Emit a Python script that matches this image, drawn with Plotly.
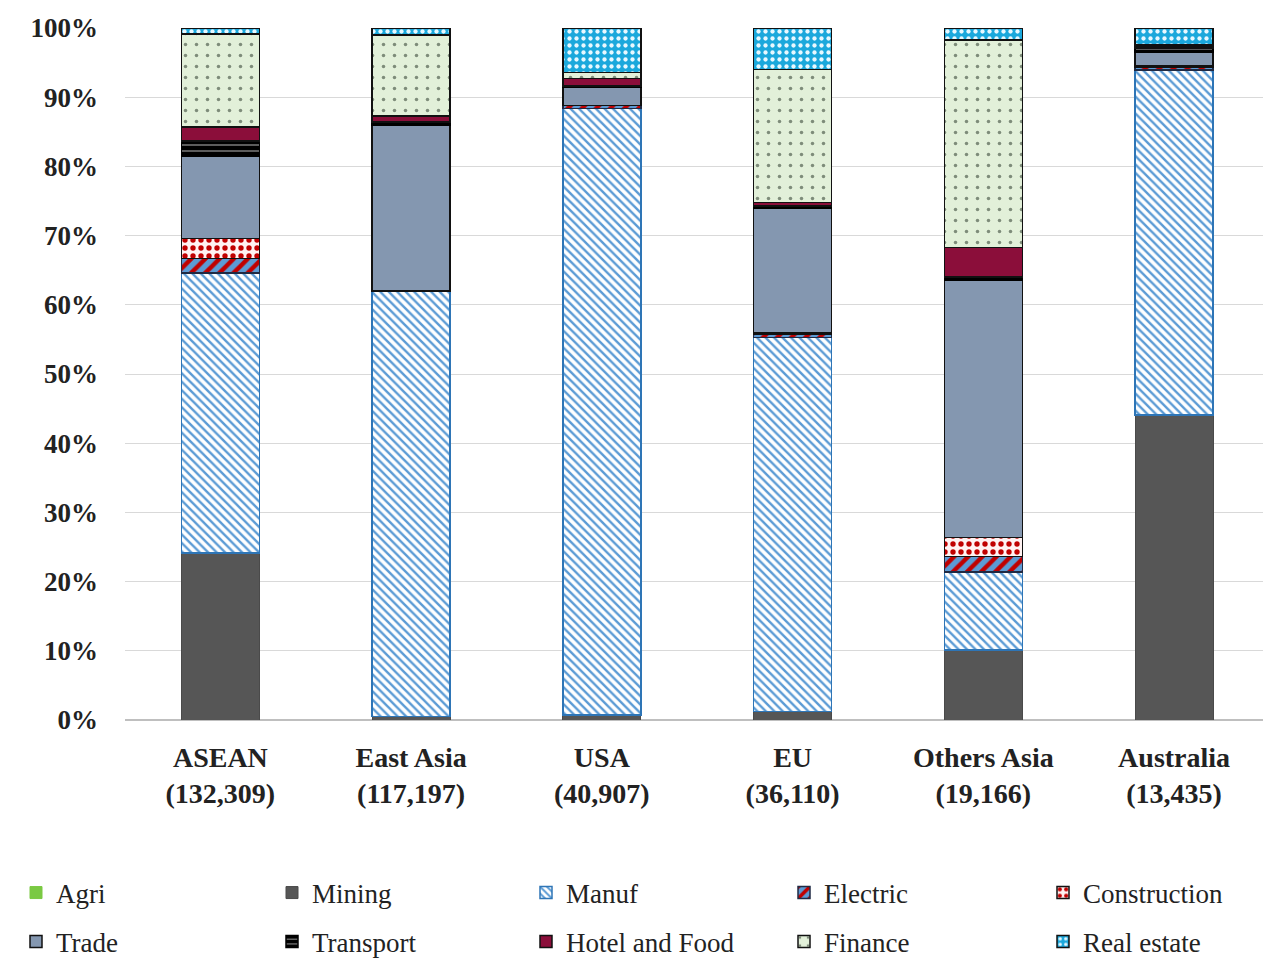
import plotly.graph_objects as go

regions = ["ASEAN", "East Asia", "USA", "EU", "Others Asia", "Australia"]
totals = ["132,309", "117,197", "40,907", "36,110", "19,166", "13,435"]

sectors = ["Agri", "Mining", "Manuf", "Electric", "Construction",
           "Trade", "Transport", "Hotel and Food", "Finance", "Real estate"]

agri         = [0.0, 0.0, 0.0, 0.0, 0.0, 0.0]
mining       = [24.1, 0.5, 0.7, 1.2, 10.1, 44.1]
manuf        = [40.5, 61.5, 87.7, 54.1, 11.3, 49.8]
electric     = [2.1, 0.0, 0.4, 0.5, 2.2, 0.4]
construction = [2.9, 0.0, 0.0, 0.2, 2.8, 0.2]
trade        = [11.9, 24.0, 2.7, 18.0, 37.2, 2.0]
transport    = [2.2, 0.4, 0.1, 0.3, 0.4, 0.6]
hotel_food   = [2.0, 0.9, 1.1, 0.5, 4.3, 0.3]
finance      = [13.4, 11.7, 0.9, 19.2, 30.0, 0.2]
real_estate  = [0.9, 1.0, 6.4, 6.0, 1.7, 2.4]

values = [agri, mining, manuf, electric, construction,
          trade, transport, hotel_food, finance, real_estate]

ytick_vals = [0, 10, 20, 30, 40, 50, 60, 70, 80, 90, 100]
ytick_text = [f"{v}%" for v in ytick_vals]

styles = {
    "Agri": dict(color="#7AC943", line=dict(color="#7AC943", width=1)),
    "Mining": dict(color="#565656", line=dict(color="#4A4A4A", width=1)),
    "Manuf": dict(color="#FFFFFF", line=dict(color="#2E75B6", width=1.5),
                  pattern=dict(shape="\\", fgcolor="#5B9BD5", bgcolor="#FFFFFF",
                               size=6, solidity=0.4, fillmode="replace")),
    "Electric": dict(color="#5B9BD5", line=dict(color="#1F2A44", width=1.5),
                     pattern=dict(shape="/", fgcolor="#C00000", bgcolor="#5B9BD5",
                                  size=10, solidity=0.45, fillmode="replace")),
    "Construction": dict(color="#FFF2F2", line=dict(color="#111111", width=1.5),
                         pattern=dict(shape=".", fgcolor="#C00000", bgcolor="#FFF2F2",
                                      size=8, solidity=0.35, fillmode="replace")),
    "Trade": dict(color="#8497B0", line=dict(color="#111111", width=1.5)),
    "Transport": dict(color="#000000", line=dict(color="#000000", width=1.5),
                      pattern=dict(shape="-", fgcolor="#9A9A9A", bgcolor="#000000",
                                   size=6, solidity=0.2, fillmode="replace")),
    "Hotel and Food": dict(color="#8B0E3A", line=dict(color="#111111", width=1.5)),
    "Finance": dict(color="#E2F0D9", line=dict(color="#111111", width=1.5),
                    pattern=dict(shape=".", fgcolor="#7E8C7A", bgcolor="#E2F0D9",
                                 size=11, solidity=0.08, fillmode="replace")),
    "Real estate": dict(color="#1BA8DC", line=dict(color="#111111", width=1.5),
                        pattern=dict(shape=".", fgcolor="#E8F8FF", bgcolor="#1BA8DC",
                                     size=7, solidity=0.3, fillmode="replace")),
}

xlabels = [f"{r}<br>({t})" for r, t in zip(regions, totals)]

W, H = 1263, 958
serif = "Liberation Serif, Times New Roman, serif"
legend_font = dict(family=serif, size=27, color="#222222")
col_px = [16, 272, 526, 784, 1043]
row_px = [893, 942]

fig = go.Figure()
legends = {}
for i, (name, vals) in enumerate(zip(sectors, values)):
    key = "legend" if i == 0 else f"legend{i + 1}"
    fig.add_trace(go.Bar(
        name=name, x=xlabels, y=vals, marker=styles[name], legend=key,
    ))
    legends[key] = dict(
        xref="container", yref="container",
        x=col_px[i % 5] / W, xanchor="left",
        y=1 - row_px[i // 5] / H, yanchor="middle",
        font=legend_font, itemclick=False, bgcolor="rgba(0,0,0,0)",
    )

fig.update_layout(
    barmode="stack",
    bargap=0.59,
    width=W, height=H,
    margin=dict(l=125, r=0, t=28, b=238, autoexpand=False),
    paper_bgcolor="white", plot_bgcolor="white",
    font=dict(family=serif, color="#222222"),
    showlegend=True,
    **legends,
)
fig.update_xaxes(
    range=[-0.5, 5.466], showgrid=False, showline=False,
    tickfont=dict(family=serif, size=28, color="#222222", weight="bold"),
    ticklabelstandoff=18,
)
fig.update_yaxes(
    range=[0, 100], tickmode="array", tickvals=ytick_vals, ticktext=ytick_text,
    showgrid=True, gridcolor="#D9D9D9", gridwidth=1,
    zeroline=True, zerolinecolor="#BFBFBF", zerolinewidth=1.5,
    showline=False,
    tickfont=dict(family=serif, size=27, color="#222222", weight="bold"),
    ticklabelstandoff=26,
)

fig.write_html("out.html")
